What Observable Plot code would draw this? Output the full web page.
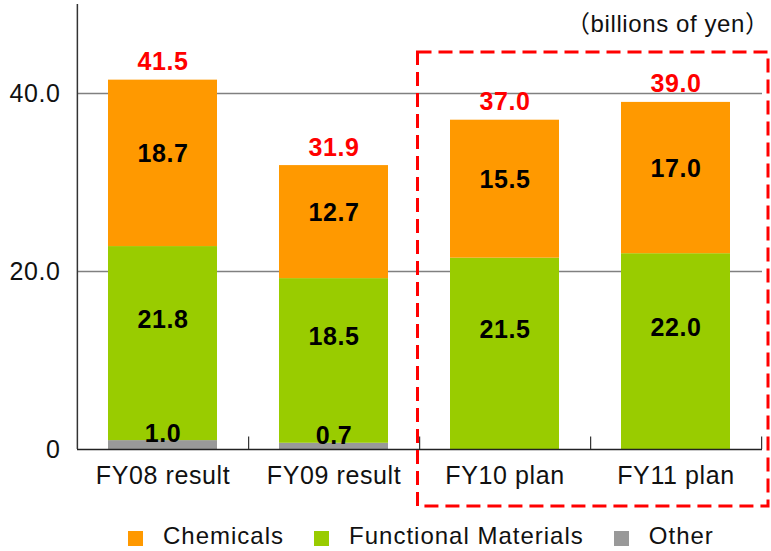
<!DOCTYPE html>
<html>
<head>
<meta charset="utf-8">
<script src="https://cdn.jsdelivr.net/npm/d3@7"></script>
<script src="https://cdn.jsdelivr.net/npm/@observablehq/plot@0.6"></script>
<style>
  html, body { margin: 0; padding: 0; background: #fff; overflow: hidden; }
  body { width: 771px; height: 551px; position: relative; font-family: "Liberation Sans", Arial, "Noto Sans CJK JP", sans-serif; }
  #chart { position: absolute; left: 0; top: 0; }
  #unit { position: absolute; left: 566px; top: 12px; font-size: 24px; line-height: 24px; letter-spacing: 0.6px; white-space: nowrap; color: #111; }
  #legend { position: absolute; left: 128px; top: 522px; display: flex; align-items: center; font-size: 24px; letter-spacing: 1px; color: #111; white-space: nowrap; }
  #legend .item { display: flex; align-items: center; margin-right: 30px; }
  #legend .sw { width: 15px; height: 15px; margin-right: 20px; position: relative; top: 2px; }
  #box { position: absolute; left: 0; top: 0; pointer-events: none; }
</style>
</head>
<body>
<div id="chart"></div>
<div id="unit"></div>
<div id="legend"></div>
<script>
const categories = ["FY08 result", "FY09 result", "FY10 plan", "FY11 plan"];
const seriesNames = ["Other", "Functional Materials", "Chemicals"];
const legendOrder = ["Chemicals", "Functional Materials", "Other"];
const seriesColors = ["#999999", "#99CC00", "#FF9900"];
const chemicals = [18.7, 12.7, 15.5, 17.0];
const functional = [21.8, 18.5, 21.5, 22.0];
const other = [1.0, 0.7, 0, 0];
const totals = [41.5, 31.9, 37.0, 39.0];
const yTicks = [0, 20, 40];
const unitLabel = "（billions of yen）";

(function () {
const seriesValues = {"Other": other, "Functional Materials": functional, "Chemicals": chemicals};
const data = [];
categories.forEach((c, i) => {
  seriesNames.forEach(s => data.push({category: c, series: s, value: seriesValues[s][i]}));
});
const totalData = categories.map((c, i) => ({category: c, total: totals[i]}));

const W = 771, H = 520, mL = 77, mR = 9, mT = 4, mB = 71;
const step = (W - mL - mR) / categories.length;
const font = "\"Liberation Sans\", Arial, sans-serif";

const labelFor = (name) => (d) => d.series === name && d.value > 0 ? d.value.toFixed(1) : "";

const chart = Plot.plot({
  width: W,
  height: H,
  marginLeft: mL,
  marginRight: mR,
  marginTop: mT,
  marginBottom: mB,
  style: {fontFamily: font, fontSize: "25px", letterSpacing: "0.6px", color: "#111", background: "transparent"},
  x: {type: "band", domain: categories, paddingInner: 0.36, paddingOuter: 0.18, tickSize: 0, tickPadding: 17, label: null},
  y: {domain: [0, 50], ticks: yTicks, tickFormat: d => d === 0 ? "0" : d.toFixed(1), tickSize: 0, tickPadding: 17, label: null},
  color: {domain: seriesNames, range: seriesColors},
  marks: [
    Plot.ruleY(yTicks.filter(d => d > 0), {stroke: "#808080", strokeWidth: 1.6}),
    Plot.barY(data, {x: "category", y: "value", z: "series", fill: "series", order: seriesNames, inset: 0}),
    Plot.text(data, Plot.stackY({x: "category", y: "value", z: "series", order: seriesNames, text: labelFor("Chemicals"), dy: -9, fontSize: 25, fontWeight: "bold", fill: "#000"})),
    Plot.text(data, Plot.stackY({x: "category", y: "value", z: "series", order: seriesNames, text: labelFor("Functional Materials"), dy: -24, fontSize: 25, fontWeight: "bold", fill: "#000"})),
    Plot.text(data, Plot.stackY2({x: "category", y: "value", z: "series", order: seriesNames, text: labelFor("Other"), dy: -7, fontSize: 25, fontWeight: "bold", fill: "#000"})),
    Plot.text(totalData, {x: "category", y: "total", text: d => d.total.toFixed(1), dy: -18, fontSize: 25, fontWeight: "bold", fill: "#FF0000"}),
    Plot.ruleY([0], {stroke: "#222", strokeWidth: 1.5}),
    Plot.ruleX([categories[0]], {dx: -step / 2, y1: 0, y2: 50, stroke: "#333", strokeWidth: 1.5}),
    Plot.ruleX(categories, {dx: step / 2, y1: 0, y2: 1.4, stroke: "#333", strokeWidth: 1.2})
  ]
});
document.getElementById("chart").appendChild(chart);

document.getElementById("unit").textContent = unitLabel;

const legend = document.getElementById("legend");
legendOrder.forEach(name => {
  const item = document.createElement("div");
  item.className = "item";
  const sw = document.createElement("div");
  sw.className = "sw";
  sw.style.background = seriesColors[seriesNames.indexOf(name)];
  const t = document.createElement("span");
  t.textContent = name;
  item.appendChild(sw);
  item.appendChild(t);
  legend.appendChild(item);
});

// dashed highlight box around the plan years
const yScale = chart.scale("y");
const ns = "http://www.w3.org/2000/svg";
const svg = document.createElementNS(ns, "svg");
svg.setAttribute("id", "box");
svg.setAttribute("width", 771);
svg.setAttribute("height", 551);
const rect = document.createElementNS(ns, "rect");
const boxLeft = mL + 2 * step - 2;
const boxRight = W - 3;
const boxTop = yScale.apply(44.6);
const boxBottom = 506;
rect.setAttribute("x", boxLeft);
rect.setAttribute("y", boxTop);
rect.setAttribute("width", boxRight - boxLeft);
rect.setAttribute("height", boxBottom - boxTop);
rect.setAttribute("fill", "none");
rect.setAttribute("stroke", "#FF0000");
rect.setAttribute("stroke-width", 3);
rect.setAttribute("stroke-dasharray", "14,7");
svg.appendChild(rect);
document.body.appendChild(svg);
})();
</script>
</body>
</html>
